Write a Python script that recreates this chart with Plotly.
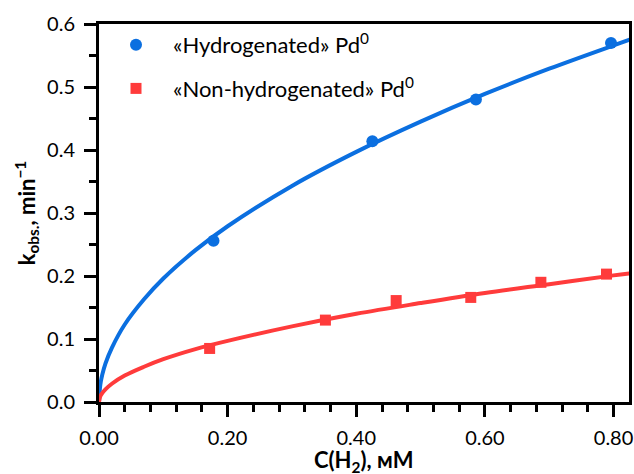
import plotly.graph_objects as go

# Measured data
x_hyd = [0.178, 0.425, 0.586, 0.796]
y_hyd = [0.256, 0.414, 0.480, 0.570]

x_non = [0.172, 0.352, 0.462, 0.578, 0.687, 0.789]
y_non = [0.085, 0.130, 0.161, 0.166, 0.190, 0.203]

# Fitted curves
x_fit = [0.0, 0.002, 0.005, 0.01, 0.02, 0.04, 0.07, 0.1, 0.15, 0.2, 0.3, 0.4, 0.5, 0.6, 0.7, 0.8, 0.825]
y_fit_hyd = [0.0, 0.027, 0.043, 0.061, 0.086, 0.123, 0.163, 0.196, 0.241, 0.279, 0.343, 0.397,
             0.445, 0.489, 0.529, 0.566, 0.575]
y_fit_non = [0.0, 0.009, 0.014, 0.020, 0.029, 0.042, 0.056, 0.068, 0.084, 0.097, 0.120, 0.140,
             0.157, 0.173, 0.187, 0.201, 0.204]

x_ticks = [0.0, 0.2, 0.4, 0.6, 0.8]
x_ticklabels = ["0.00", "0.20", "0.40", "0.60", "0.80"]
y_ticks = [0.0, 0.1, 0.2, 0.3, 0.4, 0.5, 0.6]
y_ticklabels = ["0.0", "0.1", "0.2", "0.3", "0.4", "0.5", "0.6"]

X_TITLE = "<b>C(H<sub>2</sub>), мМ</b>"
Y_TITLE = "<b>k<sub>obs.</sub>, min<sup>−1</sup></b>"

BLUE = "#0B6FE0"
RED = "#FF3B3B"
FONT = "Lato"

fig = go.Figure()
fig.add_trace(go.Scatter(x=x_fit, y=y_fit_hyd, mode="lines", line=dict(color=BLUE, width=4, shape="spline"),
                         showlegend=False, hoverinfo="skip"))
fig.add_trace(go.Scatter(x=x_fit, y=y_fit_non, mode="lines", line=dict(color=RED, width=4, shape="spline"),
                         showlegend=False, hoverinfo="skip"))
fig.add_trace(go.Scatter(x=x_hyd, y=y_hyd, mode="markers", name="«Hydrogenated» Pd<sup>0</sup>",
                         marker=dict(color=BLUE, size=12, symbol="circle"), legendgroup="a"))
fig.add_trace(go.Scatter(x=x_non, y=y_non, mode="markers", name="«Non-hydrogenated» Pd<sup>0</sup>",
                         marker=dict(color=RED, size=11, symbol="square"), legendgroup="b"))

axis_common = dict(showline=True, linecolor="black", linewidth=3, mirror=True, showgrid=False,
                   zeroline=False, ticks="outside", ticklen=12, tickwidth=3, tickcolor="black",
                   automargin=False, ticklabeloverflow="allow",
                   tickfont=dict(family=FONT, size=20, color="black"))

fig.update_xaxes(range=[0, 0.824], tickvals=x_ticks, ticktext=x_ticklabels, ticklabelstandoff=4,
                 minor=dict(dtick=0.04, ticks="outside", ticklen=7, tickwidth=3, tickcolor="black", showgrid=False),
                 **axis_common)
fig.update_yaxes(range=[0, 0.6], tickvals=y_ticks, ticktext=y_ticklabels, ticklabelstandoff=5,
                 minor=dict(dtick=0.05, ticks="outside", ticklen=7, tickwidth=3, tickcolor="black", showgrid=False),
                 title=dict(text=Y_TITLE, font=dict(family=FONT, size=22, color="black"), standoff=6),
                 **axis_common)

# x-axis title placed as an annotation so it can sit lower than the axis-title constraint allows
fig.add_annotation(text=X_TITLE, xref="paper", yref="paper", x=0.5, y=0, xanchor="center", yanchor="middle",
                   yshift=-59, showarrow=False, font=dict(family=FONT, size=22, color="black"))

fig.update_layout(
    width=634, height=474,
    margin=dict(l=99, r=5, t=24, b=72),
    plot_bgcolor="white", paper_bgcolor="white",
    font=dict(family=FONT, size=20, color="black"),
    legend=dict(x=0.0, y=1.0, xanchor="left", yanchor="top", bgcolor="rgba(0,0,0,0)", itemwidth=64,
                font=dict(family=FONT, size=22, color="black"), tracegroupgap=12, traceorder="grouped"),
)

# remove the browser's default 8px body margin so the figure fills the window exactly
fig.write_html("out.html", config={"displayModeBar": False},
               post_script="document.body.style.margin='0';document.body.style.overflow='hidden';")
